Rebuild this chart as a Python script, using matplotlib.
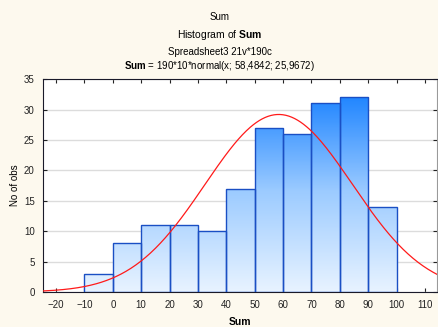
import numpy as np
import matplotlib.pyplot as plt
from matplotlib.colors import LinearSegmentedColormap

plt.rcParams['font.family'] = ['Liberation Sans', 'DejaVu Sans']
plt.rcParams['mathtext.fontset'] = 'custom'
plt.rcParams['mathtext.rm'] = 'Liberation Sans'
plt.rcParams['mathtext.bf'] = 'Liberation Sans:bold'

# histogram data
bin_edges = [-10, 0, 10, 20, 30, 40, 50, 60, 70, 80, 90, 100]
counts = [3, 8, 11, 11, 10, 17, 27, 26, 31, 32, 14]
x_ticks = [-20, -10, 0, 10, 20, 30, 40, 50, 60, 70, 80, 90, 100, 110]
y_ticks = [0, 5, 10, 15, 20, 25, 30, 35]
n_obs = 190
bin_width = 10
mu = 58.4842
sigma = 25.9672

BG = '#fdf9ee'
fig = plt.figure(figsize=(4.39, 3.27), dpi=100, facecolor=BG)
ax = fig.add_axes([0.098, 0.107, 0.897, 0.651])
ax.set_facecolor('white')

xmin, xmax = -24.6, 114.2
ymin, ymax = 0, 35

# gradient filled bars
cmap = LinearSegmentedColormap.from_list('bl', ['#e8f3ff', '#9ccbff', '#1a82ff'])
grad = np.linspace(0, 1, 256).reshape(-1, 1) * (35 / 33.0)
bars = ax.bar(bin_edges[:-1], counts, width=bin_width, align='edge',
              facecolor='none', edgecolor='#1a4fc4', linewidth=1.0, zorder=3)
for b in bars:
    im = ax.imshow(np.clip(grad, 0, 1), extent=[xmin, xmax, 0, 35], origin='lower',
                   cmap=cmap, vmin=0, vmax=1, aspect='auto', zorder=2)
    im.set_clip_path(b)

# fitted normal curve
xs = np.linspace(xmin, xmax, 400)
ys = n_obs * bin_width * np.exp(-0.5 * ((xs - mu) / sigma) ** 2) / (sigma * np.sqrt(2 * np.pi))
ax.plot(xs, ys, color='#ff1a1a', linewidth=0.9, zorder=4)

ax.set_xlim(xmin, xmax)
ax.set_ylim(ymin, ymax)
ax.set_xticks(x_ticks)
ax.set_yticks(y_ticks)
ax.yaxis.grid(True, color='#dcdcdc', linewidth=1.0, zorder=0)
ax.set_axisbelow(True)
ax.tick_params(direction='in', length=3, labelsize=7, colors='#222222',
               top=True, right=True, pad=6)
for s in ['left', 'top', 'bottom']:
    ax.spines[s].set_color('#1a1a2a')
ax.spines['right'].set_color('#9a9a9a')

ax.set_ylabel('No of obs', fontsize=7, labelpad=3)
ax.set_xlabel('Sum', fontsize=7.5, fontweight='bold', labelpad=5)

fig.text(0.5, 0.948, 'Sum', ha='center', va='center', fontsize=7)
fig.text(0.5, 0.893, r'Histogram of $\mathbf{Sum}$', ha='center', va='center', fontsize=7.5)
fig.text(0.5, 0.841, 'Spreadsheet3 21v*190c', ha='center', va='center', fontsize=7)
fig.text(0.5, 0.797, r'$\mathbf{Sum}$ = 190*10*normal(x; 58,4842; 25,9672)',
         ha='center', va='center', fontsize=7)

fig.savefig('out.png', dpi=100, facecolor=BG)
